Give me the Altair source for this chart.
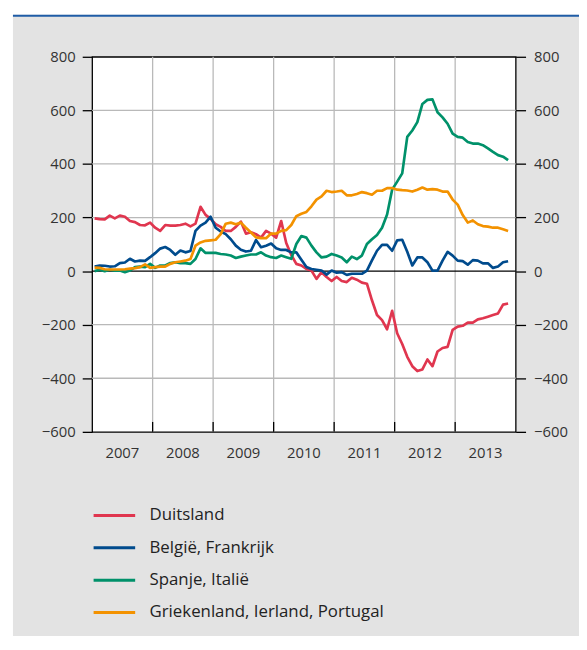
import altair as alt
import pandas as pd

# ---------------- data (monthly, Jan 2007 - Nov 2013) ----------------
series_names = ["Duitsland", "België, Frankrijk", "Spanje, Italië",
                "Griekenland, Ierland, Portugal"]
series_colors = ["#e0364f", "#004b8d", "#00916a", "#f39200"]
year_labels = [2007, 2008, 2009, 2010, 2011, 2012, 2013]
inner_years = [2008, 2009, 2010, 2011, 2012, 2013]
y_ticks = [-600, -400, -200, 0, 200, 400, 600, 800]
y_grid = [-400, -200, 200, 400, 600]

months = pd.date_range("2007-01-01", periods=83, freq="MS")

duitsland = [
    197, 194, 193, 207, 197, 207, 203, 187, 183, 172, 171, 181,
    162, 150, 172, 170, 170, 172, 177, 167, 177, 240, 210, 195,
    175, 165, 150, 150, 165, 185, 140, 145, 138, 125, 150, 140,
    125, 187, 105, 60, 27, 21, 8, 2, -29, -4, -22, -37,
    -22, -37, -41, -25, -32, -43, -47, -109, -164, -183, -217, -148,
    -232, -272, -320, -355, -373, -367, -330, -355, -300, -287, -283, -219,
    -207, -204, -192, -192, -180, -176, -170, -164, -158, -125, -121,
]
belgie_frankrijk = [
    17, 21, 20, 17, 18, 30, 32, 46, 36, 39, 38, 52,
    67, 84, 90, 79, 61, 77, 70, 75, 150, 170, 181, 203,
    162, 148, 138, 119, 95, 80, 73, 76, 116, 89, 95, 103,
    85, 79, 79, 70, 70, 42, 15, 8, 5, 2, -13, 2,
    -6, -4, -14, -10, -10, -10, 2, 40, 76, 98, 98, 76,
    115, 117, 72, 21, 51, 51, 33, 2, 2, 39, 72, 58,
    39, 37, 24, 41, 39, 29, 29, 12, 17, 33, 37,
]
spanje_italie = [
    0, 5, 0, 5, 2, 2, -4, 2, 15, 17, 15, 27,
    12, 21, 21, 30, 33, 30, 30, 27, 45, 85, 68, 68,
    68, 64, 62, 58, 49, 54, 58, 62, 62, 70, 58, 52,
    49, 58, 52, 46, 101, 131, 125, 95, 70, 51, 54, 64,
    58, 51, 33, 54, 45, 58, 101, 119, 135, 162, 211, 304,
    334, 365, 501, 525, 556, 624, 639, 641, 593, 574, 550, 513,
    501, 498, 482, 476, 476, 470, 458, 445, 433, 427, 414,
]
griekenland_ierland_portugal = [
    13, 12, 7, 6, 6, 6, 7, 9, 11, 15, 25, 12,
    15, 17, 17, 27, 33, 36, 39, 45, 95, 107, 113, 115,
    117, 138, 177, 181, 175, 181, 162, 144, 126, 123, 123, 140,
    140, 150, 153, 172, 205, 214, 221, 242, 267, 279, 300, 295,
    297, 300, 283, 283, 288, 295, 291, 285, 300, 300, 310, 310,
    304, 302, 301, 297, 304, 312, 304, 306, 304, 297, 297, 267,
    248, 209, 181, 189, 175, 168, 166, 162, 162, 156, 150,
]

rows = []
for name, vals in zip(series_names, [duitsland, belgie_frankrijk,
                                     spanje_italie, griekenland_ierland_portugal]):
    for d, v in zip(months, vals):
        rows.append({"t": d.year + (d.month - 0.5) / 12.0, "v": v, "s": name})
df = pd.DataFrame(rows)
years_df = pd.DataFrame({"t": [y + 0.5 for y in year_labels],
                         "label": [str(y) for y in year_labels]})

# ---------------- chart ----------------
W, H = 428, 379
FONT = "Open Sans"
xscale = alt.Scale(domain=[2007, 2014], nice=False, zero=False)
yscale = alt.Scale(domain=[-600, 800], nice=False, zero=False)
one = pd.DataFrame({"a": [0]})

# decoration: white strips around the grey panel and the blue top line
white_top = alt.Chart(one).mark_rect(color="white").encode(
    x=alt.value(-100), x2=alt.value(700), y=alt.value(-60), y2=alt.value(-42.5))
white_left = alt.Chart(one).mark_rect(color="white").encode(
    x=alt.value(-100), x2=alt.value(-80), y=alt.value(-60), y2=alt.value(700))
blue_line = alt.Chart(one).mark_rule(color="#1f5ca6", strokeWidth=2).encode(
    x=alt.value(-80), x2=alt.value(700), y=alt.value(-41.5))

hgrid = alt.Chart(pd.DataFrame({"v": y_grid})).mark_rule(
    color="#b9b9b9", strokeWidth=1.3).encode(
    y=alt.Y("v:Q", scale=yscale, axis=None))
vgrid = alt.Chart(pd.DataFrame({"t": inner_years})).mark_rule(
    color="#b9b9b9", strokeWidth=1.3).encode(
    x=alt.X("t:Q", scale=xscale, axis=None))
xticks_in = alt.Chart(pd.DataFrame({"t": inner_years})).mark_rule(
    color="black", strokeWidth=1.3).encode(
    x=alt.X("t:Q", scale=xscale, axis=None), y=alt.value(H), y2=alt.value(H - 10))
year_text = alt.Chart(years_df).mark_text(
    font=FONT, fontSize=15, color="#333333", align="center", baseline="alphabetic").encode(
    x=alt.X("t:Q", scale=xscale, axis=None), y=alt.value(H + 26), text="label:N")

zero = alt.Chart(pd.DataFrame({"v": [0]})).mark_rule(
    color="black", strokeWidth=1.3).encode(
    y=alt.Y("v:Q", scale=yscale,
            axis=alt.Axis(orient="right", values=y_ticks, grid=False, domain=False,
                          ticks=True, tickSize=10, tickColor="black", tickWidth=1.3,
                          labelPadding=8, title=None)))

lines = alt.Chart(df).mark_line(strokeWidth=2.7, strokeJoin="round").encode(
    x=alt.X("t:Q", scale=xscale, axis=None),
    y=alt.Y("v:Q", scale=yscale,
            axis=alt.Axis(orient="left", values=y_ticks, grid=False, domain=False,
                          ticks=True, tickSize=10, tickColor="black", tickWidth=1.3,
                          labelPadding=7, title=None)),
    color=alt.Color("s:N", scale=alt.Scale(domain=series_names, range=series_colors),
                    legend=alt.Legend(title=None, orient="none", legendX=14, legendY=455,
                                      direction="vertical", symbolType="M-3,0H3",
                                      symbolSize=196, symbolStrokeWidth=3,
                                      labelOffset=27, rowPadding=14.7, padding=0,
                                      labelFont=FONT, labelFontSize=17,
                                      labelColor="#222222", labelLimit=400)),
    order=alt.Order("s:N"),
)

chart = alt.layer(
    white_top, white_left, blue_line, hgrid, vgrid, xticks_in, year_text, zero, lines
).resolve_axis(y="independent").properties(
    width=W, height=H,
    padding={"left": 85, "top": 46, "right": 64, "bottom": 203},
    autosize=alt.AutoSizeParams(type="none"),
    background="#e3e3e3",
).configure_view(
    fill="white", stroke="black", strokeWidth=1.3
).configure_axis(
    labelFont=FONT, labelFontSize=15, labelColor="#333333"
)

chart.save("out.html", embed_options={"renderer": "svg", "actions": False})
